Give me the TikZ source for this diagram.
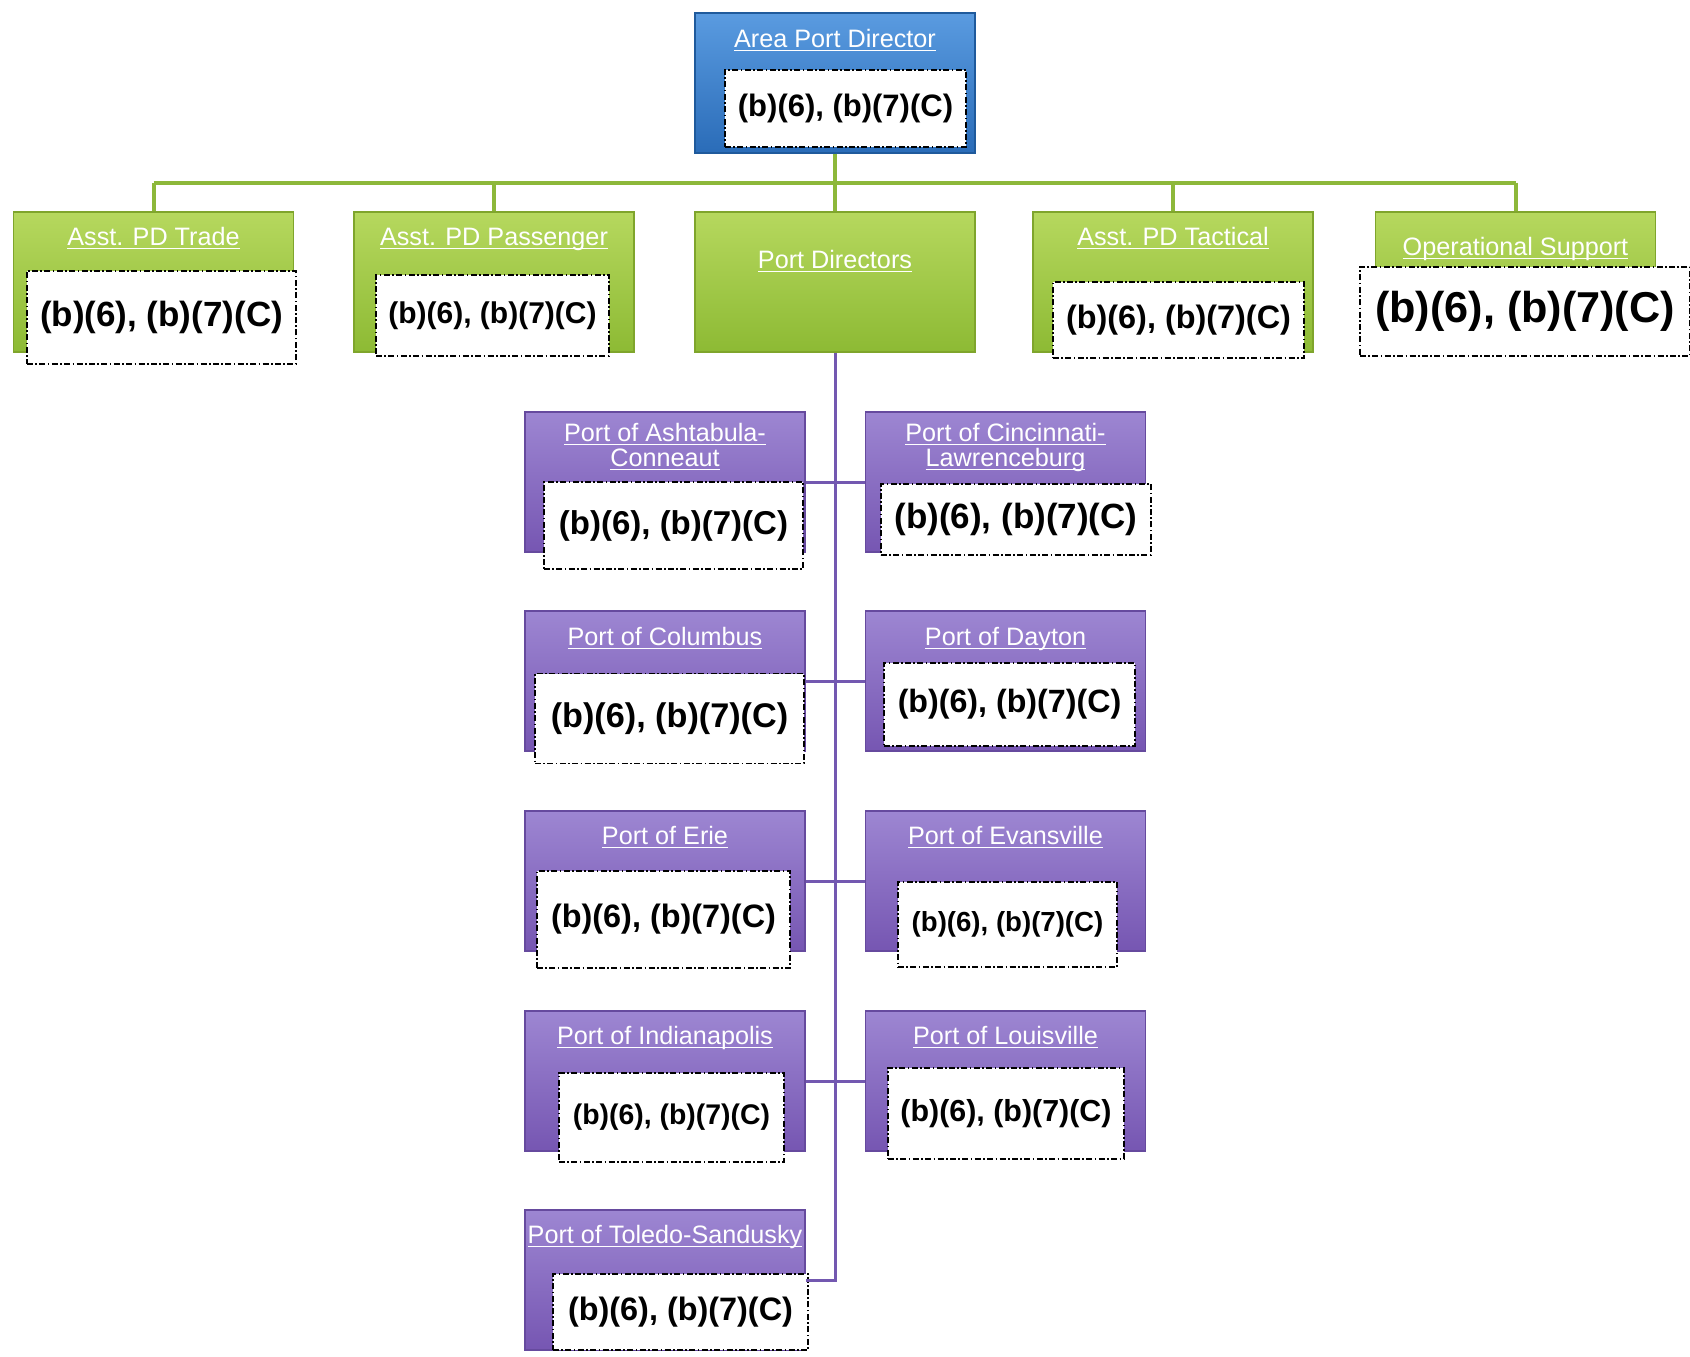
\documentclass[tikz,border=0pt]{standalone}
\usepackage{fontspec}
\setmainfont{Liberation Sans}
\usetikzlibrary{calc}
\definecolor{bluetop}{HTML}{5A9BE0}
\definecolor{bluebot}{HTML}{2A6CB8}
\definecolor{bluedark}{HTML}{1F5A9C}
\definecolor{greentop}{HTML}{B6D85E}
\definecolor{greenbot}{HTML}{8DBA34}
\definecolor{greendark}{HTML}{7FA52C}
\definecolor{purpletop}{HTML}{9D86D2}
\definecolor{purplebot}{HTML}{7656B2}
\definecolor{purpledark}{HTML}{664A9E}
\definecolor{lnGreen}{HTML}{8DB83A}
\definecolor{lnPurple}{HTML}{7358B0}
\tikzset{
  unitbox/.style={rectangle, minimum width=140pt, minimum height=70pt, inner sep=0pt, line width=0.6pt},
  bluebox/.style={unitbox, draw=bluedark, top color=bluetop, bottom color=bluebot},
  greenbox/.style={unitbox, draw=greendark, top color=greentop, bottom color=greenbot},
  purplebox/.style={unitbox, draw=purpledark, top color=purpletop, bottom color=purplebot},
  boxtitle/.style={text=white, font=\fontsize{12.6pt}{12.4pt}\selectfont, align=center, inner sep=0pt, anchor=base},
  redact/.style={draw=black, fill=white, dash pattern=on 3pt off 1.2pt on 0.8pt off 1.2pt, line width=0.7pt, inner sep=0pt},
  greenlink/.style={draw=lnGreen, line width=2pt},
  purplelink/.style={draw=lnPurple, line width=1.5pt}
}
\def\ul#1{\underline{\smash{#1}}}
\def\redactbox(#1)(#2,#3)(#4,#5)(#6){\node[redact, minimum width=#4*0.5pt, minimum height=#5*0.5pt, font=\fontsize{#6pt}{#6pt}\selectfont\bfseries] (#1) at (#2,#3) {(b)(6), (b)(7)(C)};}

\begin{document}
\begin{tikzpicture}[x=0.5pt,y=-0.5pt]
			%%%%% START %%%%%
			\useasboundingbox (0,0) rectangle (1690,1356);
			
			\node[bluebox] (apd) at (835,83) {};
			\node[boxtitle] (apdT) at ($(apd.north)+(0,35)$) {\ul{Area Port Director}};
			\redactbox(apdR)(845.5,108.5)(241,77)(15.5)
			
			\node[greenbox] (trade) at (153.5,282) {};
			\node[boxtitle] (tradeT) at ($(trade.north)+(0,34)$) {\ul{Asst. PD Trade}};
			\redactbox(tradeR)(161.5,317.5)(269,93)(17.5)
			
			\node[greenbox] (pass) at (494,282) {};
			\node[boxtitle] (passT) at ($(pass.north)+(0,34)$) {\ul{Asst. PD Passenger}};
			\redactbox(passR)(492.5,315.5)(233,81)(15)
			
			\node[greenbox] (pd) at (835,282) {};
			\node[boxtitle] (pdT) at ($(pd.north)+(0,57)$) {\ul{Port Directors}};
			
			\node[greenbox] (tact) at (1173,282) {};
			\node[boxtitle] (tactT) at ($(tact.north)+(0,34)$) {\ul{Asst. PD Tactical}};
			\redactbox(tactR)(1178.5,320)(251,76)(16.2)
			
			\node[greenbox] (ops) at (1515.5,282) {};
			\node[boxtitle] (opsT) at ($(ops.north)+(0,44)$) {\ul{Operational Support}};
			\redactbox(opsR)(1525,311.5)(330,89)(21.6)
			
			\node[purplebox] (asht) at (665,482) {};
			\node[boxtitle] (ashtT) at ($(asht.north)+(0,55)$) {\ul{Port of Ashtabula-}\\\ul{Conneaut}};
			\redactbox(ashtR)(673.5,525.5)(259,87)(16.5)
			
			\node[purplebox] (cinc) at (1005.5,482) {};
			\node[boxtitle] (cincT) at ($(cinc.north)+(0,55)$) {\ul{Port of Cincinnati-}\\\ul{Lawrenceburg}};
			\redactbox(cincR)(1016,519.5)(270,71)(17.5)
			
			\node[purplebox] (colu) at (665,681) {};
			\node[boxtitle] (coluT) at ($(colu.north)+(0,35)$) {\ul{Port of Columbus}};
			\redactbox(coluR)(669.5,718.5)(269,90)(17.1)
			
			\node[purplebox] (dayt) at (1005.5,681) {};
			\node[boxtitle] (daytT) at ($(dayt.north)+(0,35)$) {\ul{Port of Dayton}};
			\redactbox(daytR)(1009.5,704.5)(251,83)(16.1)
			
			\node[purplebox] (erie) at (665,881) {};
			\node[boxtitle] (erieT) at ($(erie.north)+(0,34)$) {\ul{Port of Erie}};
			\redactbox(erieR)(663.5,919.5)(253,97)(16.2)
			
			\node[purplebox] (evan) at (1005.5,881) {};
			\node[boxtitle] (evanT) at ($(evan.north)+(0,34)$) {\ul{Port of Evansville}};
			\redactbox(evanR)(1007.5,924.5)(219,85)(13.8)
			
			\node[purplebox] (indy) at (665,1081) {};
			\node[boxtitle] (indyT) at ($(indy.north)+(0,34)$) {\ul{Port of Indianapolis}};
			\redactbox(indyR)(671.5,1117.5)(225,89)(14.2)
			
			\node[purplebox] (loui) at (1005.5,1081) {};
			\node[boxtitle] (louiT) at ($(loui.north)+(0,34)$) {\ul{Port of Louisville}};
			\redactbox(louiR)(1006,1113.5)(236,91)(15.2)
			
			\node[purplebox] (tole) at (665,1280) {};
			\node[boxtitle] (toleT) at ($(tole.north)+(0,34)$) {\ul{Port of Toledo-Sandusky}};
			\redactbox(toleR)(680.5,1312)(255,76)(16.2)
			
			% green tree
			\coordinate (hub) at ($(apd.south)+(0,29)$);
			\draw[greenlink] (apd.south) -- (hub);
			\draw[greenlink] (hub -| trade.north) -- (hub -| ops.north);
			\foreach \nm in {trade,pass,pd,tact,ops}
				\draw[greenlink] (hub -| \nm.north) -- (\nm.north);
			
			% purple trunk
			\draw[purplelink] (pd.south) -- (pd.south |- tole.east) -- (tole.east);
			\foreach \lt/\rt in {asht/cinc,colu/dayt,erie/evan,indy/loui}
				\draw[purplelink] (\lt.east) -- (\rt.west);
			
			%%%%% END %%%%%
\end{tikzpicture}
\end{document}
